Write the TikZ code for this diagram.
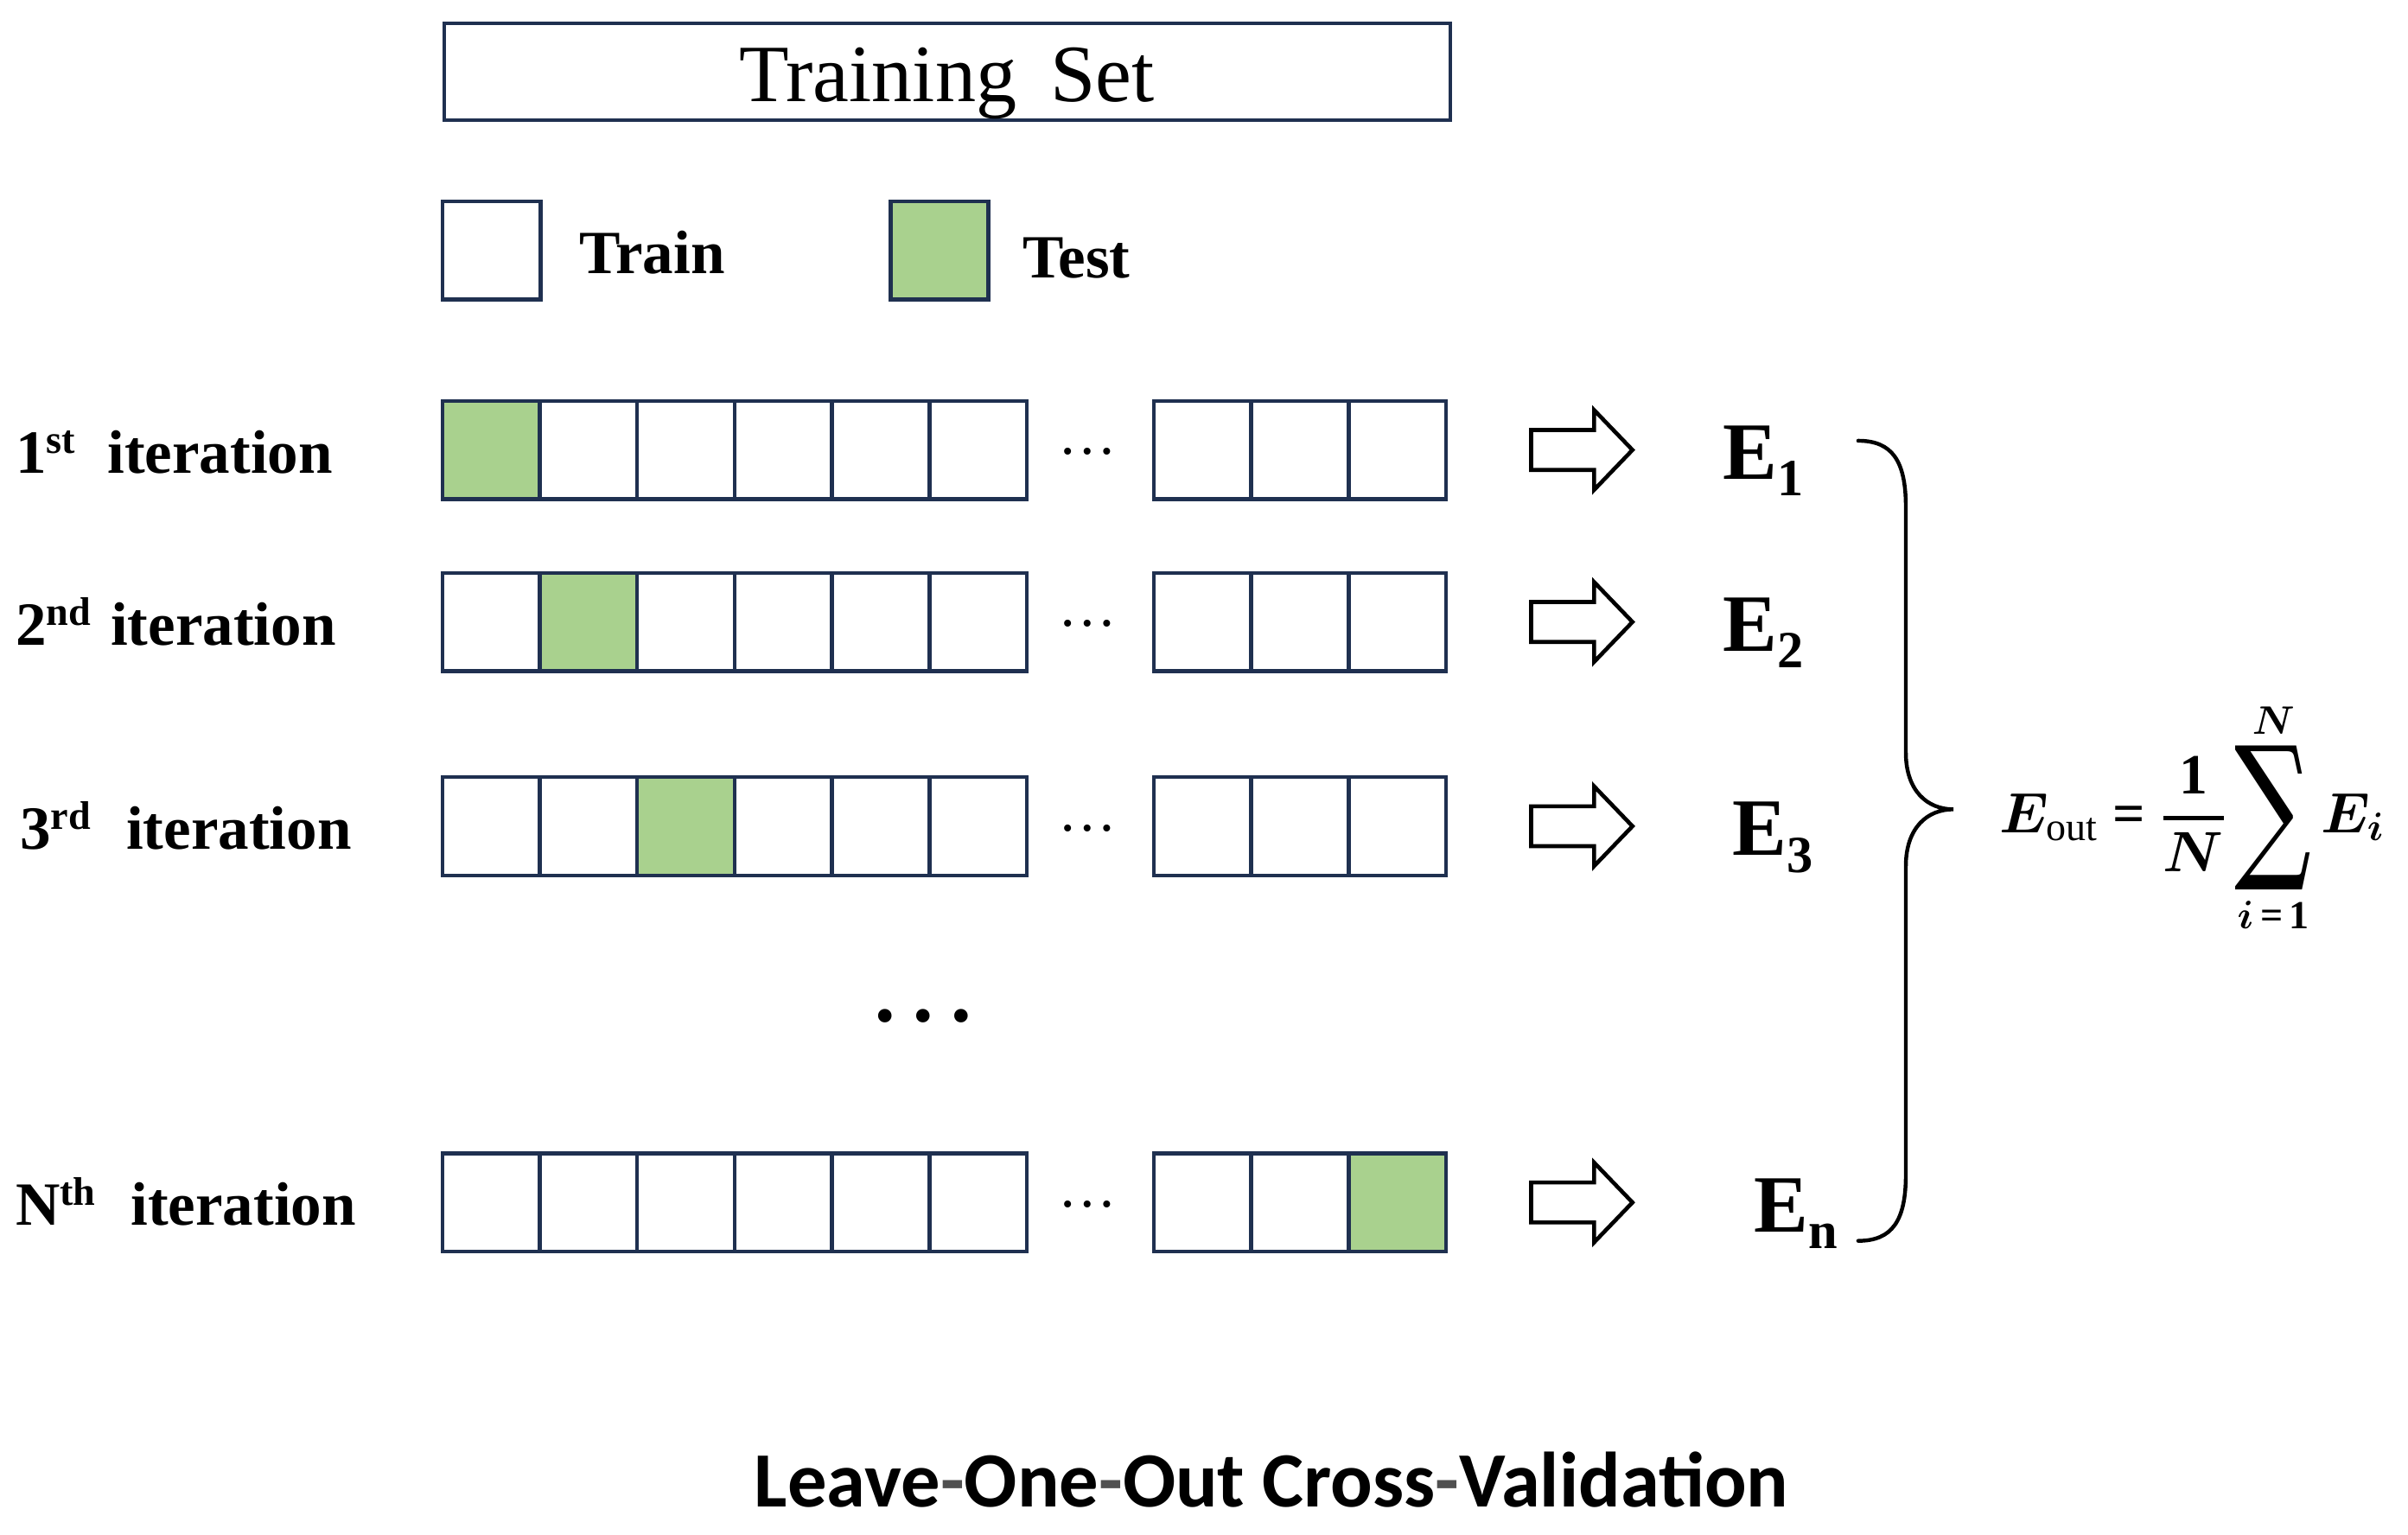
\RequirePackage{fix-cm}
\documentclass[tikz,border=0pt]{standalone}
\usepackage{fontspec}
\setmainfont{Liberation Serif}
\newfontfamily\titlefont{Carlito}
\newfontfamily\sumfont{DejaVu Serif}
\usepackage{amsmath}
\usepackage{bm}
\usepackage{graphicx}
\usetikzlibrary{calc}
\definecolor{navy}{HTML}{1F3050}
\definecolor{testgreen}{HTML}{A9D18E}
\definecolor{hyphgray}{HTML}{505050}
\newcommand\myfs[1]{\fontsize{#1pt}{#1pt}\selectfont}
\newcommand\myup[1]{\raisebox{13pt}{\myfs{26}#1}}
\newcommand\mydown[1]{\raisebox{-11pt}{\myfs{34}#1}}
\newcommand\hy{\textcolor{hyphgray}{-}}
\newcommand\cvrow[3]{%
  \foreach \i in {1,...,6}{%
    \ifnum\i=#3\relax\def\cellcol{testgreen}\else\def\cellcol{white}\fi
    \node[cell,fill=\cellcol] (#1c\i) at ({288+63.45*(\i-1)},#2) {};
  }%
  \foreach \i in {7,8,9}{%
    \ifnum\i=#3\relax\def\cellcol{testgreen}\else\def\cellcol{white}\fi
    \node[cell,fill=\cellcol] (#1c\i) at ({751.3+63.45*(\i-7)},#2) {};
  }%
}
\newcommand\rowarrow[1]{%
  \draw[blockarrow, shift={(0,#1)}] (997,-13) -- (1038,-13) -- (1038,-26) -- (1063,0) -- (1038,26) -- (1038,13) -- (997,13) -- cycle;}
\begin{document}
\begin{tikzpicture}[x=1pt,y=-1pt,
  cell/.style={draw=navy,line width=2.5pt,minimum width=63.45pt,minimum height=64pt,inner sep=0pt,outer sep=0pt,anchor=north west},
  legendbox/.style={draw=navy,line width=2.5pt,minimum width=63.5pt,minimum height=64pt,inner sep=0pt,outer sep=0pt,anchor=north west},
  rowlabel/.style={font={\bfseries\myfs{40}},inner sep=0pt,anchor=base west},
  legendtext/.style={font={\bfseries\myfs{40}},inner sep=0pt,anchor=base west},
  elabel/.style={font={\bfseries\myfs{53}},inner sep=0pt,anchor=base west},
  rowdots/.style={font={\myfs{38}},inner sep=0pt,anchor=base},
  blockarrow/.style={draw=black,line width=2.6pt,line join=miter,fill=white},
  bracestyle/.style={draw=black,line width=2.5pt,line cap=round}]
\useasboundingbox (0,0) rectangle (1568,999);

% Training set box
\node[draw=navy,line width=2.5pt,minimum width=655pt,minimum height=63pt,inner sep=0pt,anchor=north west] (trainset) at (288,14) {};
\node[font={\myfs{53}},inner sep=0pt,anchor=base] (trainsettext) at (616.5,66) {Training\hspace{22pt}Set};

% legend
\node[legendbox,fill=white,minimum width=64pt] (legtrain) at (288,131) {};
\node[legendtext] (legtraintext) at (377,178) {Train};
\node[legendbox,fill=testgreen] (legtest) at (580,131) {};
\node[legendtext] (legtesttext) at (666,181) {Test};

% rows
\node[rowlabel] (lab1) at (10,308) {1\myup{st}\hspace{21pt}iteration};
\cvrow{ra}{261}{1}
\node[rowdots] (dotsa) at (708,296) {…};
\rowarrow{293}
\node[elabel] (e1) at (1122,312) {E\mydown{1}};

\node[rowlabel] (lab2) at (10,420) {2\myup{nd}\hspace{13pt}iteration};
\cvrow{rb}{373}{2}
\node[rowdots] (dotsb) at (708,408) {…};
\rowarrow{405}
\node[elabel] (e2) at (1122,424) {E\mydown{2}};

\node[rowlabel] (lab3) at (13,553) {3\myup{rd}\hspace{23pt}iteration};
\cvrow{rc}{506}{3}
\node[rowdots] (dotsc) at (708,541) {…};
\rowarrow{538}
\node[elabel] (e3) at (1128,557) {E\mydown{3}};

\node[font={\myfs{74}},inner sep=0pt,anchor=base] (vdots) at (601,665) {…};

\node[rowlabel] (labn) at (10,798) {N\myup{th}\hspace{23pt}iteration};
\cvrow{rn}{751}{9}
\node[rowdots] (dotsn) at (708,786) {…};
\rowarrow{783}
\node[elabel] (en) at (1142,802) {E\mydown{n}};

% brace
\draw[bracestyle] (1210,287) .. controls (1232,287) and (1241,300) .. (1241,330)
  -- (1241,490) .. controls (1241,515) and (1255,527) .. (1272,527)
  .. controls (1255,527) and (1241,539) .. (1241,564)
  -- (1241,765) .. controls (1241,795) and (1232,808) .. (1210,808);

% formula
\node[inner sep=0pt,anchor=base west] (formula) at (1302,542)
  {\myfs{37}$\displaystyle \bm{E}_{\text{out}} \mathrel{\textbf{=}} \genfrac{}{}{2.4pt}{0}{\mathbf{1}}{\bm{N}}\mathop{\vcenter{\vbox{\vskip3pt\hbox{\resizebox{50pt}{74pt}{\sumfont ∑}}\vskip3pt}}}\limits_{\bm{i}\,\textbf{=}\,\mathbf{1}}^{\bm{N}} \bm{E}_{\bm{i}}$};

% title
\node[font={\titlefont\bfseries\myfs{51}},inner sep=0pt,anchor=base] (title) at (828,981) {Leave\hy One\hy Out Cross\hy Validation};
\end{tikzpicture}
\end{document}
